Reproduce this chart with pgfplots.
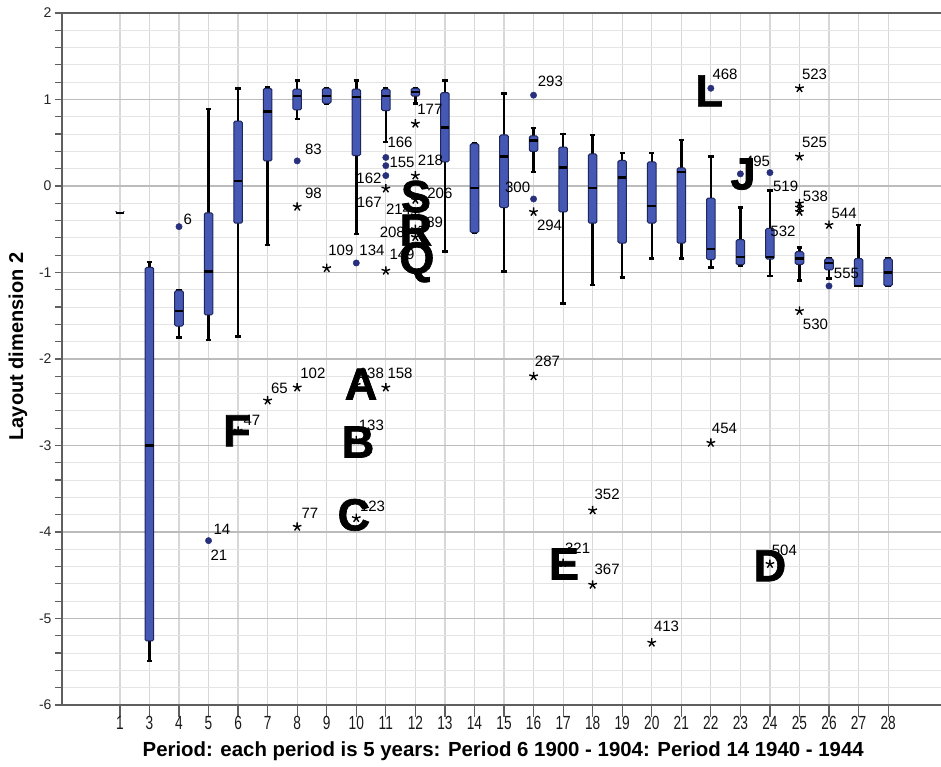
\documentclass[border=0pt]{standalone}
\usepackage{fontspec}
\setmainfont{Liberation Sans}
\newfontfamily\heavy{Liberation Sans}[UprightFont=* Bold, FakeBold=1.5]
\newfontfamily\narrow{Liberation Sans}[FakeStretch=0.72]
\usepackage{pgfplots}
\pgfplotsset{compat=1.18}
\usepgfplotslibrary{statistics}
\definecolor{boxfill}{RGB}{68,88,180}
\definecolor{boxline}{RGB}{30,38,90}
\definecolor{outl}{RGB}{40,48,125}
\definecolor{gridmaj}{RGB}{188,188,188}
\definecolor{gridmin}{RGB}{228,228,228}
\definecolor{gridx}{RGB}{215,215,215}
\definecolor{axisgray}{RGB}{95,95,95}
\newcommand{\bp}[6]{\addplot[boxplot prepared={draw position=#1, lower whisker=#2, lower quartile=#3, median=#4, upper quartile=#5, upper whisker=#6}] coordinates {};}
\newcommand{\lab}[3]{\node[font=\fontsize{15}{17}\selectfont, inner sep=0pt, anchor=center, text=black] at (axis cs:#1,#2) {#3};}
\newcommand{\Lt}[3]{\node[font=\heavy\fontsize{45}{45}\selectfont, inner sep=0pt, text depth=0pt, anchor=center, text=black] at (axis cs:#1,#2) {#3};}
\begin{document}
\begin{tikzpicture}
\begin{axis}[
  at={(0pt,0pt)}, anchor=south west,
  width=879pt, height=692pt, scale only axis,
  xmin=-1.96, xmax=27.79, ymin=-6, ymax=2,
  axis x line*=box, axis y line*=left,
  axis line style={axisgray, line width=2pt},
  xtick={0,...,26},
  xticklabels={1,3,4,5,6,7,8,9,10,11,12,13,14,15,16,17,18,19,20,21,22,23,24,25,26,27,28},
  ytick={-6,...,2},
  yticklabels={-6,-5,-4,-3,-2,-1,0,1,2},
  minor y tick num=4,
  tick align=outside,
  xtick pos=left, ytick pos=left,
  major tick length=7pt, minor tick length=7pt,
  xtick style={/pgfplots/major tick length=12pt, draw=axisgray, line width=1.2pt},
  ytick style={draw=axisgray, line width=1.2pt},
  minor tick style={draw=axisgray, line width=1pt},
  xmajorgrids, ymajorgrids, yminorgrids,
  major x grid style={gridx, line width=1.2pt},
  major y grid style={gridmaj, line width=1.3pt},
  minor y grid style={gridmin, line width=0.9pt},
  yticklabel style={font=\fontsize{14}{16}\selectfont, text=black!85},
  xticklabel style={font=\narrow\fontsize{19}{21}\selectfont, text=black!90, yshift=-1pt},
  xlabel={\bfseries Period: each period is 5 years: Period 6 1900 - 1904: Period 14 1940 - 1944},
  ylabel={\bfseries Layout dimension 2},
  xlabel style={font=\fontsize{20.4}{22}\selectfont, at={(axis description cs:0.502,-0.075)}, anchor=base},
  ylabel style={font=\fontsize{20}{22}\selectfont, at={(axis description cs:-0.050,0.518)}, anchor=center},
  clip=false,
  boxplot/draw direction=y,
  boxplot/box extend=0.29,
  boxplot/whisker extend=0.18,
  boxplot/every box/.style={fill=boxfill, draw=boxline, line width=1pt, rounded corners=1.5pt},
  boxplot/every whisker/.style={black, line width=2.5pt},
  boxplot/every median/.style={black, line width=2.4pt},
]
% boxes: position, lower whisker, lower quartile, median, upper quartile, upper whisker
\bp{0}{-0.31}{-0.31}{-0.31}{-0.31}{-0.31}
\bp{1}{-5.49}{-5.26}{-3.00}{-0.94}{-0.88}
\bp{2}{-1.75}{-1.62}{-1.445}{-1.21}{-1.21}
\bp{3}{-1.78}{-1.49}{-0.99}{-0.31}{0.89}
\bp{4}{-1.74}{-0.43}{0.06}{0.75}{1.13}
\bp{5}{-0.68}{0.29}{0.86}{1.13}{1.14}
\bp{6}{0.775}{0.88}{1.04}{1.12}{1.22}
\bp{7}{0.956}{0.956}{1.04}{1.13}{1.13}
\bp{8}{-0.555}{0.35}{1.03}{1.12}{1.22}
\bp{9}{0.51}{0.87}{1.04}{1.12}{1.13}
\bp{10}{0.955}{1.04}{1.09}{1.13}{1.13}
\bp{11}{-0.76}{0.28}{0.674}{1.08}{1.22}
\bp{12}{-0.54}{-0.54}{-0.02}{0.49}{0.49}
\bp{13}{-0.99}{-0.25}{0.34}{0.59}{1.07}
\bp{14}{0.16}{0.40}{0.524}{0.58}{0.67}
\bp{15}{-1.36}{-0.30}{0.215}{0.45}{0.60}
\bp{16}{-1.145}{-0.43}{-0.02}{0.37}{0.59}
\bp{17}{-1.06}{-0.66}{0.10}{0.295}{0.38}
\bp{18}{-0.84}{-0.43}{-0.23}{0.28}{0.38}
\bp{19}{-0.84}{-0.66}{0.16}{0.21}{0.53}
\bp{20}{-0.94}{-0.85}{-0.73}{-0.14}{0.34}
\bp{21}{-0.92}{-0.91}{-0.82}{-0.62}{-0.25}
\bp{22}{-1.04}{-0.845}{-0.82}{-0.49}{-0.05}
\bp{23}{-1.095}{-0.905}{-0.84}{-0.76}{-0.71}
\bp{24}{-1.07}{-0.97}{-0.89}{-0.84}{-0.84}
\bp{25}{-1.155}{-1.155}{-1.155}{-0.84}{-0.45}
\bp{26}{-1.156}{-1.156}{-1.0}{-0.84}{-0.84}
% outliers (circles)
\addplot[only marks, mark=*, mark size=3.2pt, mark options={fill=outl, draw=outl}] coordinates {
(2,-0.47) (3,-4.10) (6,0.29) (8,-0.89) (9,0.33) (9,0.235) (9,0.12)
(14,1.05) (14,-0.15) (20,1.13) (21,0.14) (22,0.155) (24,-1.156)};
% extremes (stars)
\addplot[only marks, mark=star, mark size=4.5pt, line width=1.4pt, black] coordinates {
(4,-2.83) (5,-2.48) (6,-0.24) (6,-2.33) (6,-3.94) (7,-0.95) (8,-2.30) (8,-2.94) (8,-3.84)
(9,-0.03) (9,-0.98) (9,-2.33) (10,0.72) (10,0.12) (10,-0.16) (10,-0.34) (10,-0.50) (10,-0.59)
(14,-0.30) (14,-2.20) (15,-4.36) (16,-3.75) (16,-4.61) (18,-5.28) (20,-2.97) (22,-4.37)
(23,1.13) (23,0.34) (23,-0.20) (23,-0.25) (23,-0.30) (23,-1.445) (24,-0.45)};
% case labels
\lab{2.30}{-0.39}{6}
\lab{3.45}{-3.97}{14}
\lab{3.35}{-4.27}{21}
\lab{4.47}{-2.71}{47}
\lab{5.40}{-2.34}{65}
\lab{6.55}{0.42}{83}
\lab{6.55}{-0.09}{98}
\lab{6.53}{-2.17}{102}
\lab{6.43}{-3.79}{77}
\lab{7.48}{-0.74}{109}
\lab{8.53}{-0.74}{134}
\lab{8.51}{-2.17}{138}
\lab{9.48}{-2.17}{158}
\lab{8.51}{-2.77}{133}
\lab{8.55}{-3.70}{123}
\lab{9.48}{0.50}{166}
\lab{9.55}{0.27}{155}
\lab{8.43}{0.09}{162}
\lab{8.44}{-0.19}{167}
\lab{9.55}{-0.79}{149}
\lab{10.49}{0.89}{177}
\lab{10.51}{0.30}{218}
\lab{10.83}{-0.08}{206}
\lab{9.43}{-0.27}{214}
\lab{9.22}{-0.53}{208}
\lab{10.51}{-0.42}{189}
\lab{14.57}{1.21}{293}
\lab{13.46}{-0.01}{300}
\lab{14.54}{-0.46}{294}
\lab{14.47}{-2.03}{287}
\lab{15.49}{-4.19}{321}
\lab{16.49}{-3.56}{352}
\lab{16.49}{-4.43}{367}
\lab{18.50}{-5.09}{413}
\lab{20.48}{1.29}{468}
\lab{20.46}{-2.80}{454}
\lab{21.58}{0.28}{495}
\lab{22.53}{0.00}{519}
\lab{22.44}{-0.52}{532}
\lab{22.49}{-4.21}{504}
\lab{23.51}{1.29}{523}
\lab{23.51}{0.51}{525}
\lab{23.54}{-0.12}{538}
\lab{23.54}{-1.60}{530}
\lab{24.51}{-0.32}{544}
\lab{24.59}{-1.01}{555}
% large annotation letters
\Lt{19.94}{1.10}{L}
\Lt{21.09}{0.14}{J}
\Lt{10.02}{-0.12}{S}
\Lt{10.02}{-0.51}{R}
\Lt{10.05}{-0.83}{Q}
\Lt{8.16}{-2.29}{A}
\Lt{8.06}{-2.96}{B}
\Lt{7.92}{-3.80}{C}
\Lt{3.96}{-2.83}{F}
\Lt{15.03}{-4.37}{E}
\Lt{22.00}{-4.39}{D}
\end{axis}
\pgfresetboundingbox
\path (-62pt,-62pt) rectangle (879pt,705pt);
\end{tikzpicture}
\end{document}
